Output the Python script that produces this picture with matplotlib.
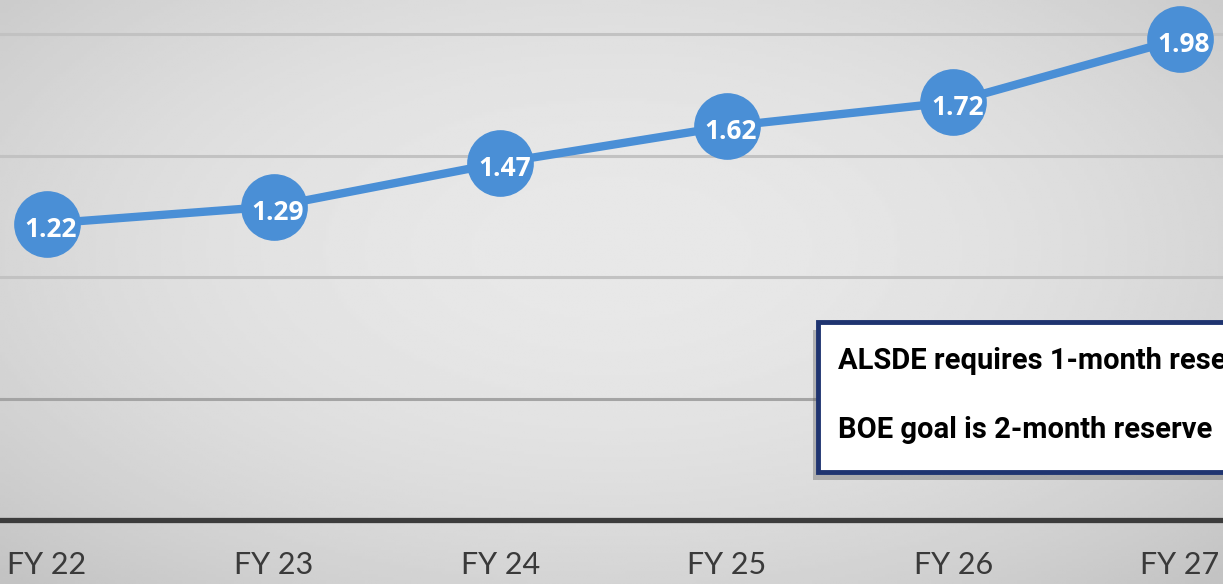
import numpy as np
import matplotlib.pyplot as plt
from matplotlib.patches import Rectangle

years = ['FY 22', 'FY 23', 'FY 24', 'FY 25', 'FY 26', 'FY 27']
reserve_months = [1.22, 1.29, 1.47, 1.62, 1.72, 1.98]
grid_levels = [0.5, 1.0, 1.5, 2.0]
note_lines = ['ALSDE requires 1-month reserve', 'BOE goal is 2-month reserve']

blue = '#4a8fd6'

fig = plt.figure(figsize=(12.23, 5.84), dpi=100)

# soft radial grey background over the whole figure
bg = fig.add_axes([0, 0, 1, 1], zorder=0)
gx, gy = np.meshgrid(np.linspace(-1, 1, 400), np.linspace(-1, 1, 200))
r = np.sqrt((gx / 1.1) ** 2 + ((gy + 0.15) / 1.2) ** 2)
shade = 0.91 - 0.085 * np.clip(r, 0, 1.3) ** 2
bg.imshow(shade, cmap='gray', vmin=0, vmax=1, aspect='auto', extent=[0, 1, 0, 1])
bg.axis('off')

ax = fig.add_axes([0, 64 / 584, 1, 520 / 584], zorder=1)
ax.patch.set_alpha(0)
x = np.arange(len(years))
ax.set_xlim(-0.207, 5.19)
ax.set_ylim(0, 2.14)

for g in grid_levels:
    c = '#c2c2c2' if g > 0.9 else '#a4a4a4'
    ax.axhline(g, color=c, lw=2.2, zorder=1)
ax.axhline(0, color='#3c3c3c', lw=3.8, zorder=1, clip_on=False)

ax.plot(x, reserve_months, color=blue, lw=6, marker='o', markersize=47,
        markerfacecolor=blue, markeredgecolor=blue, zorder=3)
for xi, v in zip(x, reserve_months):
    ax.annotate(f'{v:.2f}', (xi, v), xytext=(3, -4), textcoords='offset points',
                ha='center', va='center', color='white', fontsize=19,
                fontweight='bold', family='Open Sans', zorder=4)

ax.set_xticks(x)
ax.set_xticklabels(years, family='Lato', fontsize=22, color='#3a3a3a')
ax.tick_params(axis='x', length=0, pad=22)
ax.set_yticks([])
for s in ax.spines.values():
    s.set_visible(False)

# note box, running off the right edge
bx0, by0 = 818 / 1223, (584 - 472) / 584
bw, bh = 0.5, 150 / 584
shadow = Rectangle((bx0 - 0.004, by0 - 0.014), bw, bh, transform=fig.transFigure,
                   facecolor='#555555', alpha=0.35, edgecolor='none', zorder=5)
box = Rectangle((bx0, by0), bw, bh, transform=fig.transFigure, facecolor='white',
                edgecolor='#1f3470', lw=3.5, zorder=6)
fig.add_artist(shadow)
fig.add_artist(box)
fig.text(838 / 1223, (584 - 361) / 584, note_lines[0], family='Roboto',
         fontweight='bold', fontsize=21, va='center', ha='left', zorder=7)
fig.text(838 / 1223, (584 - 430) / 584, note_lines[1], family='Roboto',
         fontweight='bold', fontsize=21, va='center', ha='left', zorder=7)

plt.savefig('out.png', dpi=100)
